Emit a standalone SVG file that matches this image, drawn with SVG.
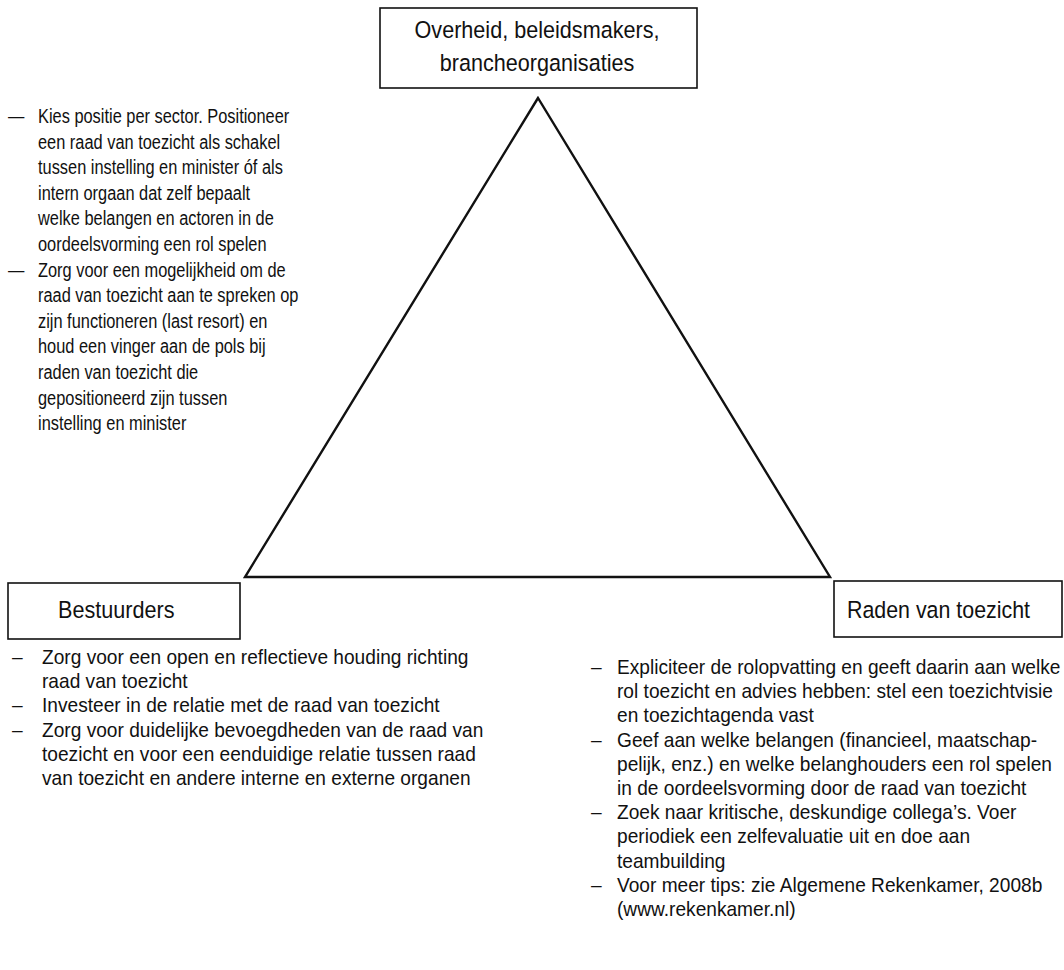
<svg xmlns="http://www.w3.org/2000/svg" width="1064" height="970" viewBox="0 0 1064 970">
<style>
.box{fill:#fff;stroke:#111;stroke-width:1.6}
.tri{fill:none;stroke:#111;stroke-width:2.4;stroke-linejoin:miter}
.lbl{font-family:"Liberation Sans",Arial,sans-serif;font-size:23.5px;fill:#111}
.t{font-family:"Liberation Sans",Arial,sans-serif;font-size:20px;fill:#111}
.s{font-family:"Liberation Sans",Arial,sans-serif;font-size:21px;fill:#111}
</style>
<rect width="1064" height="970" fill="#fff"/>
<g id="connectors">
<polygon class="tri" points="538,98 245,577 830,577"/>
</g>
<g id="node-overheid">
<rect class="box" x="380" y="8" width="317" height="80"/>
<text class="lbl" text-anchor="middle" transform="translate(537 38) scale(0.92 1)">Overheid, beleidsmakers,</text>
<text class="lbl" text-anchor="middle" transform="translate(537 71) scale(0.92 1)">brancheorganisaties</text>
</g>
<g id="node-bestuurders">
<rect class="box" x="8" y="583" width="232" height="56"/>
<text class="lbl" transform="translate(58 618) scale(0.92 1)">Bestuurders</text>
</g>
<g id="node-raden">
<rect class="box" x="834" y="581" width="228" height="56"/>
<text class="lbl" transform="translate(847 618) scale(0.91 1)">Raden van toezicht</text>
</g>
<g id="tips-overheid">
<text class="s" transform="translate(8 123) scale(0.78 1)">—</text>
<text class="s" transform="translate(38 123) scale(0.78 1)">Kies positie per sector. Positioneer</text>
<text class="s" transform="translate(38 148.6) scale(0.78 1)">een raad van toezicht als schakel</text>
<text class="s" transform="translate(38 174.2) scale(0.78 1)">tussen instelling en minister óf als</text>
<text class="s" transform="translate(38 199.8) scale(0.78 1)">intern orgaan dat zelf bepaalt</text>
<text class="s" transform="translate(38 225.4) scale(0.78 1)">welke belangen en actoren in de</text>
<text class="s" transform="translate(38 251) scale(0.78 1)">oordeelsvorming een rol spelen</text>
<text class="s" transform="translate(8 276.6) scale(0.78 1)">—</text>
<text class="s" transform="translate(38 276.6) scale(0.78 1)">Zorg voor een mogelijkheid om de</text>
<text class="s" transform="translate(38 302.2) scale(0.78 1)">raad van toezicht aan te spreken op</text>
<text class="s" transform="translate(38 327.8) scale(0.78 1)">zijn functioneren (last resort) en</text>
<text class="s" transform="translate(38 353.4) scale(0.78 1)">houd een vinger aan de pols bij</text>
<text class="s" transform="translate(38 379) scale(0.78 1)">raden van toezicht die</text>
<text class="s" transform="translate(38 404.6) scale(0.78 1)">gepositioneerd zijn tussen</text>
<text class="s" transform="translate(38 430.2) scale(0.78 1)">instelling en minister</text>
</g>
<g id="tips-bestuurders">
<text class="t" transform="translate(12 664) scale(0.957 1)">–</text>
<text class="t" transform="translate(42 664) scale(0.957 1)">Zorg voor een open en reflectieve houding richting</text>
<text class="t" transform="translate(42 688.2) scale(0.957 1)">raad van toezicht</text>
<text class="t" transform="translate(12 712.4) scale(0.957 1)">–</text>
<text class="t" transform="translate(42 712.4) scale(0.957 1)">Investeer in de relatie met de raad van toezicht</text>
<text class="t" transform="translate(12 736.6) scale(0.957 1)">–</text>
<text class="t" transform="translate(42 736.6) scale(0.957 1)">Zorg voor duidelijke bevoegdheden van de raad van</text>
<text class="t" transform="translate(42 760.8) scale(0.957 1)">toezicht en voor een eenduidige relatie tussen raad</text>
<text class="t" transform="translate(42 785) scale(0.957 1)">van toezicht en andere interne en externe organen</text>
</g>
<g id="tips-raden">
<text class="t" transform="translate(591 674) scale(0.957 1)">–</text>
<text class="t" transform="translate(617 674) scale(0.957 1)">Expliciteer de rolopvatting en geeft daarin aan welke</text>
<text class="t" transform="translate(617 698.2) scale(0.957 1)">rol toezicht en advies hebben: stel een toezichtvisie</text>
<text class="t" transform="translate(617 722.4) scale(0.957 1)">en toezichtagenda vast</text>
<text class="t" transform="translate(591 746.6) scale(0.957 1)">–</text>
<text class="t" transform="translate(617 746.6) scale(0.957 1)">Geef aan welke belangen (financieel, maatschap-</text>
<text class="t" transform="translate(617 770.8) scale(0.957 1)">pelijk, enz.) en welke belanghouders een rol spelen</text>
<text class="t" transform="translate(617 795) scale(0.957 1)">in de oordeelsvorming door de raad van toezicht</text>
<text class="t" transform="translate(591 819.2) scale(0.957 1)">–</text>
<text class="t" transform="translate(617 819.2) scale(0.957 1)">Zoek naar kritische, deskundige collega’s. Voer</text>
<text class="t" transform="translate(617 843.4) scale(0.957 1)">periodiek een zelfevaluatie uit en doe aan</text>
<text class="t" transform="translate(617 867.6) scale(0.957 1)">teambuilding</text>
<text class="t" transform="translate(591 891.8) scale(0.957 1)">–</text>
<text class="t" transform="translate(617 891.8) scale(0.957 1)">Voor meer tips: zie Algemene Rekenkamer, 2008b</text>
<text class="t" transform="translate(617 916) scale(0.957 1)">(www.rekenkamer.nl)</text>
</g>
</svg>
